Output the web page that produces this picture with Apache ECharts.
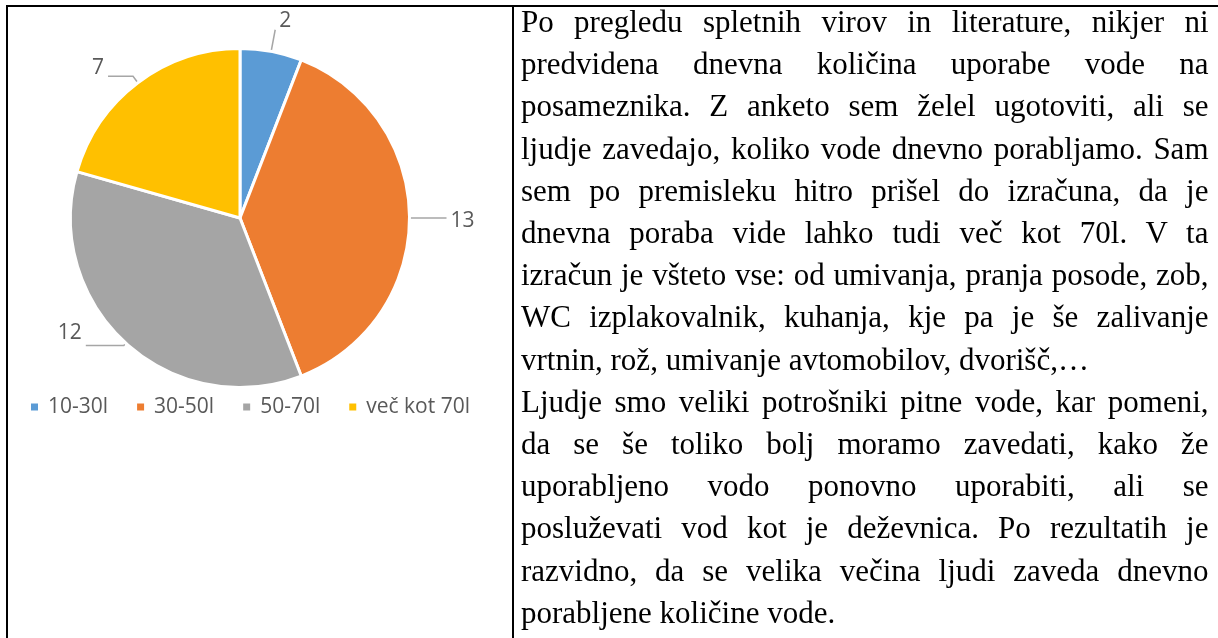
<!DOCTYPE html>
<html>
<head>
<meta charset="utf-8">
<script src="https://cdn.jsdelivr.net/npm/echarts@6/dist/echarts.min.js"></script>
<style>
  html, body { margin: 0; padding: 0; background: #fff; }
  #page { position: relative; width: 1218px; height: 638px; overflow: hidden; background: #fff; }
  #chart { position: absolute; left: 0; top: 0; width: 512px; height: 638px; }
  .rule { position: absolute; background: #000; }
  #text { position: absolute; left: 521px; top: 1px; width: 687.5px;
          font-family: "Liberation Serif", "Times New Roman", serif; font-size: 31px;
          line-height: 42.2px; color: #000; }
  #text div { white-space: nowrap; text-align: justify; text-align-last: justify; }
  #text div.last { text-align: left; text-align-last: left; }
</style>
</head>
<body>
<div id="page">
  <div id="chart"></div>
  <div class="rule" style="left:6px; top:5px; width:1212px; height:2px;"></div>
  <div class="rule" style="left:6px; top:5px; width:2px; height:633px;"></div>
  <div class="rule" style="left:512px; top:5px; width:2px; height:633px;"></div>
  <div id="text"></div>
</div>
<script>
// ---- data ----
const categories = ['10-30l', '30-50l', '50-70l', 'več kot 70l'];
const values = [2, 13, 12, 7];
const colors = ['#5B9BD5', '#ED7D31', '#A5A5A5', '#FFC000'];

// ---- text lines of the right cell ----
const paragraph1 = [
  'Po pregledu spletnih virov in literature, nikjer ni',
  'predvidena dnevna količina uporabe vode na',
  'posameznika. Z anketo sem želel ugotoviti, ali se',
  'ljudje zavedajo, koliko vode dnevno porabljamo. Sam',
  'sem po premisleku hitro prišel do izračuna, da je',
  'dnevna poraba vide lahko tudi več kot 70l. V ta',
  'izračun je všteto vse: od umivanja, pranja posode, zob,',
  'WC izplakovalnik, kuhanja, kje pa je še zalivanje',
  'vrtnin, rož, umivanje avtomobilov, dvorišč,…'
];
const paragraph2 = [
  'Ljudje smo veliki potrošniki pitne vode, kar pomeni,',
  'da se še toliko bolj moramo zavedati, kako že',
  'uporabljeno vodo ponovno uporabiti, ali se',
  'posluževati vod kot je deževnica. Po rezultatih je',
  'razvidno, da se velika večina ljudi zaveda dnevno',
  'porabljene količine vode.'
];

const textEl = document.getElementById('text');
[paragraph1, paragraph2].forEach(function (para) {
  para.forEach(function (line, i) {
    const d = document.createElement('div');
    d.textContent = line;
    if (i === para.length - 1) d.className = 'last';
    textEl.appendChild(d);
  });
});

// ---- per-slice label styling (styles only): an empty line shifts the value up or down ----
const labelStyles = [
  { label: { formatter: '{c}\n\u00a0', lineHeight: 18 }, labelLine: { length: 22, length2: 0 } },
  { label: { formatter: '\u00a0\n{c}', lineHeight: 6 },  labelLine: { length: 21, length2: 16 } },
  { label: { formatter: '{c}\n\u00a0', lineHeight: 24 }, labelLine: { length: 3, length2: 38 } },
  { label: { formatter: '{c}\n\u00a0', lineHeight: 16 }, labelLine: { length: 8, length2: 25 } }
];

const chart = echarts.init(document.getElementById('chart'), null, { renderer: 'canvas' });
chart.setOption({
  animation: false,
  color: colors,
  legend: {
    data: categories,
    left: 29,
    top: 396,
    padding: 0,
    icon: 'rect',
    itemWidth: 9,
    itemHeight: 9,
    itemGap: 27,
    selectedMode: false,
    textStyle: { fontFamily: 'Open Sans', fontSize: 21, color: '#595959', lineHeight: 22, padding: [0, 0, 0, 4] }
  },
  series: [{
    type: 'pie',
    center: [240, 218],
    radius: 169.5,
    startAngle: 90,
    clockwise: true,
    avoidLabelOverlap: false,
    silent: true,
    itemStyle: { borderColor: '#ffffff', borderWidth: 3 },
    label: {
      show: true,
      position: 'outside',
      formatter: '{c}',
      fontFamily: 'Open Sans',
      fontSize: 21,
      color: '#595959',
      distanceToLabelLine: 4
    },
    labelLine: { show: true, smooth: false, lineStyle: { color: '#A6A6A6', width: 1.5 } },
    emphasis: { disabled: true },
    data: categories.map(function (name, i) {
      return {
        name: name,
        value: values[i],
        label: labelStyles[i].label,
        labelLine: labelStyles[i].labelLine
      };
    })
  }]
});
</script>
</body>
</html>
